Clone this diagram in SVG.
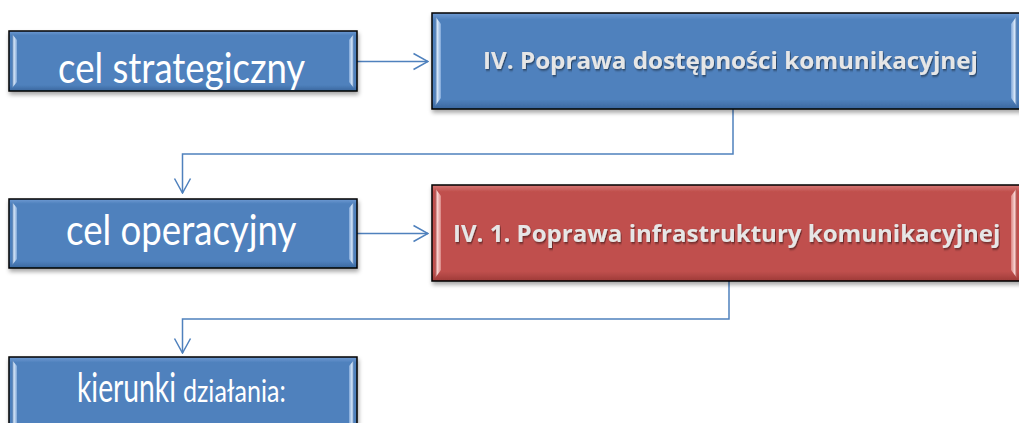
<svg xmlns="http://www.w3.org/2000/svg" width="1019" height="423" viewBox="0 0 1019 423">
<defs>
<linearGradient id="gBlue" x1="0" y1="0" x2="0" y2="1">
<stop offset="0" stop-color="#6f9bd3"/><stop offset="0.07" stop-color="#4f81bd"/><stop offset="0.9" stop-color="#4f81bd"/><stop offset="1" stop-color="#3a679e"/>
</linearGradient>
<linearGradient id="gRed" x1="0" y1="0" x2="0" y2="1">
<stop offset="0" stop-color="#d77a77"/><stop offset="0.07" stop-color="#c0504d"/><stop offset="0.9" stop-color="#c0504d"/><stop offset="1" stop-color="#9e3b38"/>
</linearGradient>
<linearGradient id="bvB" x1="0" y1="0" x2="1" y2="0">
<stop offset="0" stop-color="#3f6ea8"/><stop offset="0.4" stop-color="#d6e6f8"/><stop offset="1" stop-color="#7ea6d8"/>
</linearGradient>
<linearGradient id="bvBr" x1="1" y1="0" x2="0" y2="0">
<stop offset="0" stop-color="#3f6ea8"/><stop offset="0.4" stop-color="#d6e6f8"/><stop offset="1" stop-color="#7ea6d8"/>
</linearGradient>
<linearGradient id="bvR" x1="0" y1="0" x2="1" y2="0">
<stop offset="0" stop-color="#a43f3c"/><stop offset="0.4" stop-color="#f8d2d0"/><stop offset="1" stop-color="#d98582"/>
</linearGradient>
<linearGradient id="bvRr" x1="1" y1="0" x2="0" y2="0">
<stop offset="0" stop-color="#a43f3c"/><stop offset="0.4" stop-color="#f8d2d0"/><stop offset="1" stop-color="#d98582"/>
</linearGradient>
<filter id="sh" x="-5%" y="-20%" width="110%" height="150%">
<feDropShadow dx="1" dy="3" stdDeviation="2" flood-color="#000" flood-opacity="0.35"/>
</filter>
<filter id="tsh" x="-5%" y="-30%" width="110%" height="160%">
<feDropShadow dx="1" dy="1.5" stdDeviation="0.8" flood-color="#000" flood-opacity="0.5"/>
</filter>
<marker id="arr" viewBox="0 0 16 20" refX="15" refY="10" markerWidth="16" markerHeight="20" markerUnits="userSpaceOnUse" orient="auto">
<path d="M0.5,2 L15,10 L0.5,18" fill="none" stroke="#4f81bd" stroke-width="1.5"/>
</marker>
</defs>
<style>
.box{stroke:#000;stroke-width:1.5}
.blue{fill:url(#gBlue)}
.red{fill:url(#gRed)}
.lt{font-family:Lato,"Open Sans","DejaVu Sans",sans-serif;fill:#fff}
.bt{font-family:"Open Sans","Noto Sans","DejaVu Sans",sans-serif;font-weight:bold;fill:#e6e6e6;font-size:23px}
.con{fill:none;stroke:#4f81bd;stroke-width:1.5}
</style>

<g id="connectors">
<path class="con" d="M357,61.5 H428" marker-end="url(#arr)"/>
<path class="con" d="M733,109 V154 H182.5 V193" marker-end="url(#arr)"/>
<path class="con" d="M357,233.5 H428" marker-end="url(#arr)"/>
<path class="con" d="M729,281 V319 H182.5 V353" marker-end="url(#arr)"/>
</g>

<g id="node-cel-strategiczny">
<rect class="box blue" x="9" y="31" width="348" height="60" filter="url(#sh)"/>
<polygon points="12,34 17,40 17,82 12,88" fill="url(#bvB)"/>
<polygon points="354,34 349,40 349,82 354,88" fill="url(#bvBr)"/>
<text class="lt" transform="matrix(0.8 0 0 1 58 83)" font-size="43" textLength="309" lengthAdjust="spacingAndGlyphs">cel strategiczny</text>
</g>

<g id="node-poprawa-dostepnosci">
<rect class="box blue" x="432" y="13" width="592" height="96" filter="url(#sh)"/>
<polygon points="435,16 441,24 441,98 435,106" fill="url(#bvB)"/>
<polygon points="1017,16 1011,24 1011,98 1017,106" fill="url(#bvBr)"/>
<text class="bt" transform="matrix(0.92 0 0 1 483 69)" textLength="538" lengthAdjust="spacingAndGlyphs" filter="url(#tsh)">IV. Poprawa dostępności komunikacyjnej</text>
</g>

<g id="node-cel-operacyjny">
<rect class="box blue" x="9" y="199" width="348" height="69" filter="url(#sh)"/>
<polygon points="12,202 17,208 17,259 12,265" fill="url(#bvB)"/>
<polygon points="354,202 349,208 349,259 354,265" fill="url(#bvBr)"/>
<text class="lt" transform="matrix(0.8 0 0 1 66 245)" font-size="43" textLength="288" lengthAdjust="spacingAndGlyphs">cel operacyjny</text>
</g>

<g id="node-poprawa-infrastruktury">
<rect class="box red" x="432" y="185" width="592" height="96" filter="url(#sh)"/>
<polygon points="435,188 441,196 441,270 435,278" fill="url(#bvR)"/>
<polygon points="1017,188 1011,196 1011,270 1017,278" fill="url(#bvRr)"/>
<text class="bt" transform="matrix(0.92 0 0 1 453 242)" textLength="595" lengthAdjust="spacingAndGlyphs" filter="url(#tsh)">IV. 1. Poprawa infrastruktury komunikacyjnej</text>
</g>

<g id="node-kierunki">
<rect class="box blue" x="9" y="357" width="348" height="80" filter="url(#sh)"/>
<polygon points="12,360 17,366 17,430 12,436" fill="url(#bvB)"/>
<polygon points="354,360 349,366 349,430 354,436" fill="url(#bvBr)"/>
<text class="lt" transform="matrix(0.75 0 0 1 77 402)" font-size="40" textLength="132" lengthAdjust="spacingAndGlyphs">kierunki</text>
<text class="lt" transform="matrix(0.75 0 0 1 183 402)" font-size="31" textLength="137" lengthAdjust="spacingAndGlyphs">działania:</text>
</g>
</svg>
